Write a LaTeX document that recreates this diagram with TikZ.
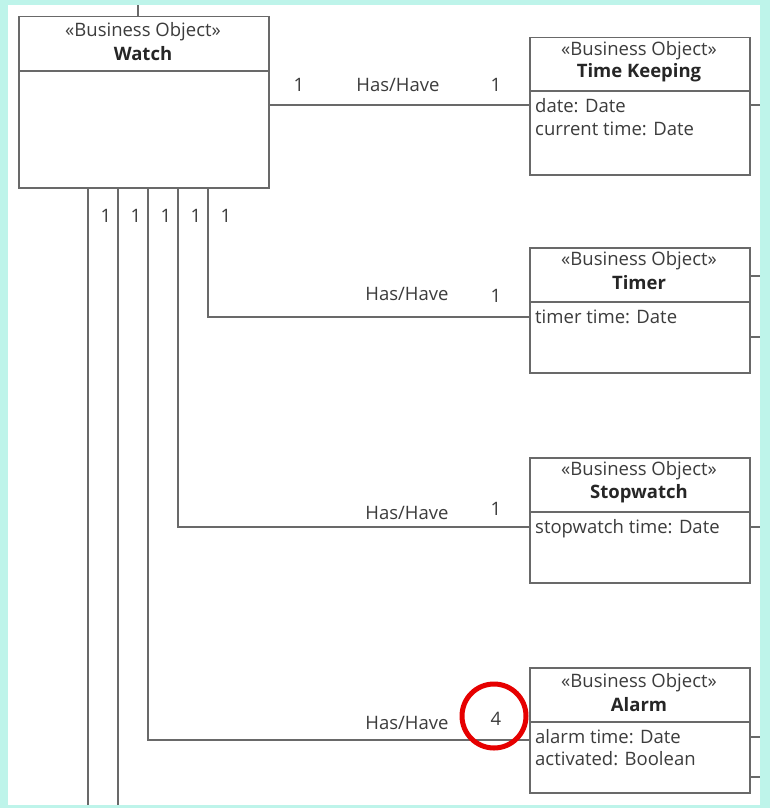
\documentclass[tikz,border=0pt]{standalone}
\usepackage{fontspec}
\setmainfont{Open Sans}
\definecolor{bgc}{RGB}{190,244,234}
\definecolor{ln}{RGB}{105,105,105}
\definecolor{tx}{RGB}{60,60,60}
\definecolor{hl}{RGB}{230,0,0}
\begin{document}
\begin{tikzpicture}[x=1pt,y=-1pt,
  box/.style={draw=ln, line width=1.5pt, fill=white, rectangle, inner sep=0pt, anchor=north west},
  hdr/.style={font=\fontsize{18.5}{22}\selectfont, text=tx, inner sep=0pt},
  nm/.style={font=\fontsize{18.5}{22}\selectfont\bfseries, text=black!85, inner sep=0pt},
  attr/.style={font=\fontsize{18.5}{22}\selectfont, text=tx, anchor=base west, inner sep=0pt},
  mult/.style={font=\fontsize{18.5}{22}\selectfont, text=tx, inner sep=0pt},
  conn/.style={draw=ln, line width=1.5pt}]
\useasboundingbox (0,0) rectangle (770,808);
\fill[bgc] (0,0) rectangle (770,808);
\fill[white] (8,5) rectangle (760,805);

% free ends
\coordinate (top) at (138,5);
\coordinate (b1) at (88,805);
\coordinate (b2) at (118,805);
\coordinate (s1) at (760,105);
\coordinate (s2) at (760,276);
\coordinate (s3) at (760,337);
\coordinate (s4) at (760,527);
\coordinate (s5) at (760,737);
\coordinate (s6) at (760,777);

% boxes
\node[box, minimum width=250pt, minimum height=171pt] (watch) at (18,16) {};
\node[box, minimum width=220pt, minimum height=137pt] (tk) at (529,37) {};
\node[box, minimum width=220pt, minimum height=125pt] (timer) at (529,247) {};
\node[box, minimum width=220pt, minimum height=125pt] (sw) at (529,457) {};
\node[box, minimum width=220pt, minimum height=125pt] (alarm) at (529,667) {};

% dividers
\draw[conn] ([yshift=-55pt]watch.north west) -- ([yshift=-55pt]watch.north east);
\draw[conn] ([yshift=-54pt]tk.north west) -- ([yshift=-54pt]tk.north east);
\draw[conn] ([yshift=-55pt]timer.north west) -- ([yshift=-55pt]timer.north east);
\draw[conn] ([yshift=-55pt]sw.north west) -- ([yshift=-55pt]sw.north east);
\draw[conn] ([yshift=-55pt]alarm.north west) -- ([yshift=-55pt]alarm.north east);

% headers
\node[hdr] (watchst) at (143,32) {«Business Object»};
\node[nm] (watchnm) at (143,54) {Watch};
\node[hdr] (tkst) at (639,51) {«Business Object»};
\node[nm] (tknm) at (639,73) {Time Keeping};
\node[hdr] (timerst) at (639,261) {«Business Object»};
\node[nm] (timernm) at (639,283) {Timer};
\node[hdr] (swst) at (639,471) {«Business Object»};
\node[nm] (swnm) at (639,494) {Stopwatch};
\node[hdr] (alarmst) at (639,683) {«Business Object»};
\node[nm] (alarmnm) at (639,705) {Alarm};

% attributes
\node[attr] (tkat1) at (535,112) {date: Date};
\node[attr] (tkat2) at (535,135) {current time: Date};
\node[attr] (timerat) at (535,323) {timer time: Date};
\node[attr] (swat) at (535,533) {stopwatch time: Date};
\node[attr] (alarmat1) at (535,743) {alarm time: Date};
\node[attr] (alarmat2) at (535,765) {activated: Boolean};

% connectors
\draw[conn] (watch.north -| top) -- (top);
\draw[conn] ([yshift=-89pt]watch.north east) -- ([yshift=-68pt]tk.north west);
\draw[conn] ([xshift=190pt]watch.south west) |- ([yshift=-70pt]timer.north west);
\draw[conn] ([xshift=160pt]watch.south west) |- ([yshift=-70pt]sw.north west);
\draw[conn] ([xshift=130pt]watch.south west) |- ([yshift=-73pt]alarm.north west);
\draw[conn] (watch.south -| b1) -- (b1);
\draw[conn] (watch.south -| b2) -- (b2);
\draw[conn] (tk.east |- s1) -- (s1);
\draw[conn] (timer.east |- s2) -- (s2);
\draw[conn] (timer.east |- s3) -- (s3);
\draw[conn] (sw.east |- s4) -- (s4);
\draw[conn] (alarm.east |- s5) -- (s5);
\draw[conn] (alarm.east |- s6) -- (s6);

% labels
\node[mult] (m1) at (299,85) {1};
\node[mult] (l1) at (398,85) {Has/Have};
\node[mult] (n1) at (496,85) {1};
\node[mult] (l2) at (407,294) {Has/Have};
\node[mult] (n2) at (496,296) {1};
\node[mult] (l3) at (407,513) {Has/Have};
\node[mult] (n3) at (496,509) {1};
\node[mult] (l4) at (407,723) {Has/Have};
\node[mult] (n4) at (496,719) {4};
\node[mult] (w1) at (106,216) {1};
\node[mult] (w2) at (136,216) {1};
\node[mult] (w3) at (166,216) {1};
\node[mult] (w4) at (196,216) {1};
\node[mult] (w5) at (226,216) {1};

% highlight
\node[circle, draw=hl, line width=5pt, minimum size=64pt, inner sep=0pt] (ring) at (494,716) {};
\end{tikzpicture}
\end{document}
